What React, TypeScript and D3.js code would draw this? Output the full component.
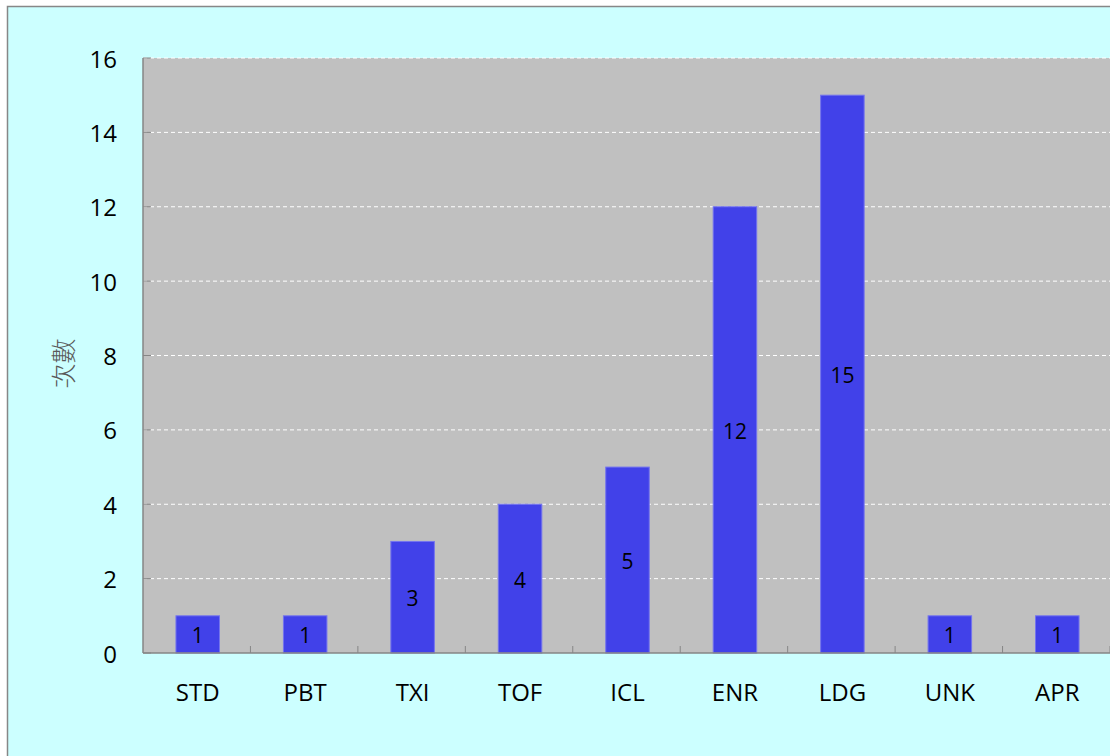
import React from "react";
import * as d3 from "d3";

const categories = ["STD", "PBT", "TXI", "TOF", "ICL", "ENR", "LDG", "UNK", "APR"];
const counts = [1, 1, 3, 4, 5, 12, 15, 1, 1];
const yTicks = [0, 2, 4, 6, 8, 10, 12, 14, 16];
const yLabel = "次數";

const W = 1110;
const H = 756;
const plot = { left: 143, top: 58, right: 1110, bottom: 653 };
const font = "'Open Sans', 'Noto Sans', sans-serif";

export default function App() {
  const x = d3
    .scaleBand<string>()
    .domain(categories)
    .range([plot.left + 1, plot.right + 1])
    .paddingInner(0.595)
    .paddingOuter(0.2975);
  const band = d3.scaleBand<string>().domain(categories).range([plot.left, plot.right]);
  const y = d3.scaleLinear().domain([0, 16]).range([plot.bottom, plot.top]);

  return (
    <svg
      width={W}
      height={H}
      style={{ position: "absolute", left: 0, top: 0 }}
      fontFamily={font}
    >
      <rect x={0} y={0} width={W} height={H} fill="#ffffff" />
      <rect x={7.5} y={6.5} width={W + 20} height={H + 20} fill="#CCFFFF" stroke="#878787" strokeWidth={1.5} />
      <rect x={plot.left} y={plot.top} width={plot.right - plot.left + 10} height={plot.bottom - plot.top} fill="#C0C0C0" />
      {yTicks.map((t) => (
        <g key={t}>
          {t > 0 && (
            <line
              x1={plot.left}
              x2={plot.right + 10}
              y1={y(t)}
              y2={y(t)}
              stroke="#ffffff"
              strokeDasharray="4,3"
              strokeWidth={1}
            />
          )}
          <line x1={plot.left} x2={plot.left + 8} y1={y(t)} y2={y(t)} stroke="#868686" strokeWidth={1} />
          <text x={plot.left - 26} y={y(t)} textAnchor="end" dominantBaseline="central" fontSize={24} fill="#000">
            {t}
          </text>
        </g>
      ))}
      {categories.map((c) => (
        <line
          key={"t" + c}
          x1={(band(c) as number) + band.bandwidth()}
          x2={(band(c) as number) + band.bandwidth()}
          y1={plot.bottom}
          y2={plot.bottom - 7}
          stroke="#868686"
        />
      ))}
      {categories.map((c, i) => (
        <g key={c}>
          <rect
            x={x(c)}
            y={y(counts[i])}
            width={x.bandwidth()}
            height={y(0) - y(counts[i])}
            fill="#4141E9"
            stroke="#7474EE"
            strokeWidth={1}
          />
          <text
            x={(x(c) as number) + x.bandwidth() / 2}
            y={(y(counts[i]) + y(0)) / 2 + 1}
            textAnchor="middle"
            dominantBaseline="central"
            fontSize={21}
            fill="#000"
          >
            {counts[i]}
          </text>
          <text
            x={(x(c) as number) + x.bandwidth() / 2}
            y={691}
            textAnchor="middle"
            dominantBaseline="central"
            fontSize={24}
            fill="#000"
          >
            {c}
          </text>
        </g>
      ))}
      <line x1={plot.left} x2={plot.left} y1={plot.top} y2={plot.bottom} stroke="#868686" strokeWidth={1.5} />
      <line x1={plot.left} x2={plot.right + 10} y1={plot.bottom} y2={plot.bottom} stroke="#868686" strokeWidth={1.5} />
      <text
        transform={`translate(62, ${(plot.top + plot.bottom) / 2 + 8}) rotate(-90)`}
        textAnchor="middle"
        dominantBaseline="central"
        fontSize={25}
        fill="#595959"
        fontFamily="'Noto Sans CJK TC', sans-serif"
        fontWeight={300}
      >
        {yLabel}
      </text>
    </svg>
  );
}
